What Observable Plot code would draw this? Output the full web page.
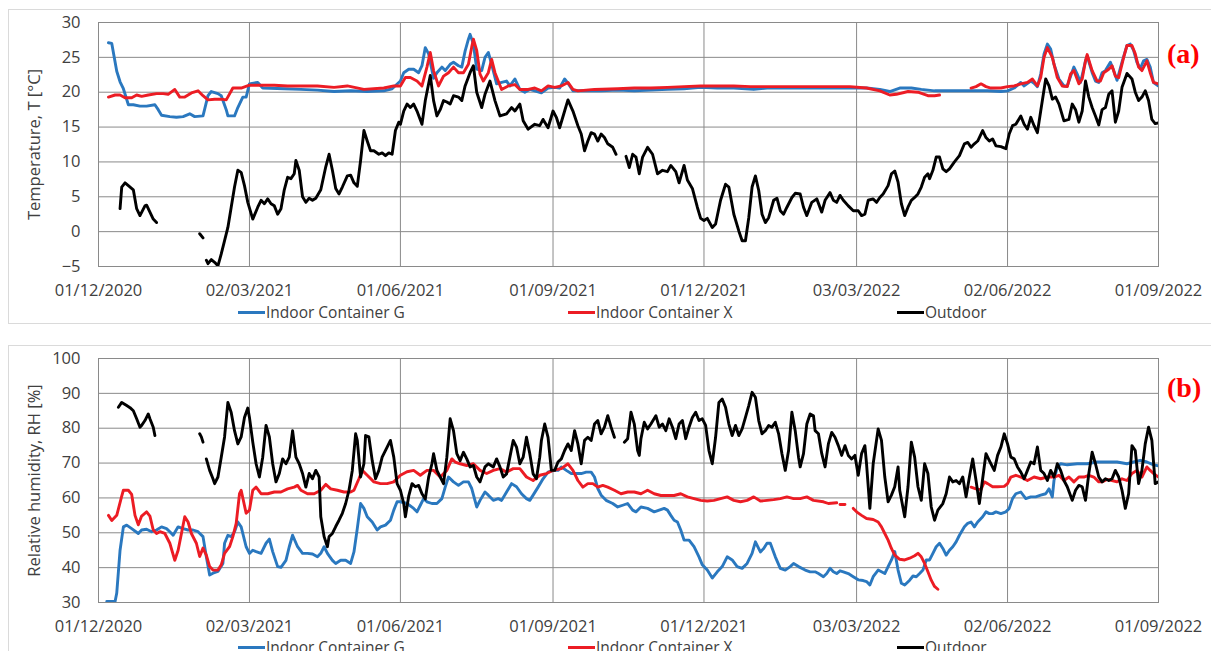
<!DOCTYPE html>
<html><head><meta charset="utf-8">
<script src="https://cdn.jsdelivr.net/npm/d3@7"></script>
<script src="https://cdn.jsdelivr.net/npm/@observablehq/plot@0.6"></script>
<style>
body{margin:0;background:#fff;}
#wrap{position:relative;width:1211px;height:651px;overflow:hidden;font-family:"Open Sans",Lato,sans-serif;background:#fff}
.box{position:absolute;border:1.5px solid #dadada;}
.chart{position:absolute;left:0;}
.leg{position:absolute;font-size:15.5px;line-height:16px;color:#404040;white-space:nowrap}
.sw{position:absolute;width:27px;height:3px}
.tag{position:absolute;font-family:"Liberation Serif",serif;font-weight:bold;font-size:28px;line-height:28px;color:#ff0000}
</style></head>
<body><div id="wrap">
<div class="box" style="left:8px;top:9px;width:1300px;height:313px"></div>
<div class="box" style="left:8px;top:345px;width:1300px;height:400px"></div>
<div id="ca" class="chart" style="top:0"></div>
<div id="cb" class="chart" style="top:336px"></div>
<div class="tag" style="left:1167px;top:40px">(a)</div>
<div class="tag" style="left:1167px;top:374px">(b)</div>
<div id="legA"></div><div id="legB"></div>
</div>
<script>
// ---- tick labels and series names ----
const xTickLabels = ["01/12/2020","02/03/2021","01/06/2021","01/09/2021","01/12/2021","03/03/2022","02/06/2022","01/09/2022"];
const tempTicks = [-5,0,5,10,15,20,25,30];
const humTicks = [30,40,50,60,70,80,90,100];
const seriesNames = ["Indoor Container G","Indoor Container X","Outdoor"];
const seriesColors = ["#2a78bf","#ec1c24","#000000"];
const startDate = "2020-12-01";
const endDate = "2022-09-01";

// ---- data: [days since 01/12/2020, value]; null = gap ----
const tempG = [[6,27.1],[8,27.0],[11,23.0],[13,21.5],[15,20.5],[18,18.2],[21,18.2],[25,18.0],[29,18.0],[34,18.2],[36,17.5],[38,16.7],[43,16.5],[47,16.4],[51,16.5],[55,16.9],[58,16.5],[63,16.6],[66,19.5],[68,20.1],[72,19.8],[74,19.5],[77,17.5],[78,16.6],[82,16.6],[84,17.8],[87,19.3],[89,19.3],[91,21.2],[96,21.4],[99,20.6],[112,20.5],[122,20.4],[132,20.3],[142,20.1],[152,20.2],[162,20.1],[172,20.2],[177,20.5],[182,21.6],
[184,22.8],[187,23.3],[190,23.3],[193,22.8],[195,23.8],[197,26.4],[199,25.5],[202,22.0],[204,22.8],[207,23.6],[209,23.1],[212,24.0],[214,24.3],[217,23.8],[219,23.6],[221,25.9],[223,27.6],[224,28.3],[226,26.9],[228,23.3],[231,23.1],[233,25.0],[235,25.7],[237,24.0],[240,21.2],[243,21.4],[246,21.6],[248,20.9],[251,21.9],[254,20.4],[257,20.0],[260,20.4],[263,20.2],[267,19.9],[271,20.6],[275,20.7],[278,20.6],[281,21.9],[283,21.3],[286,20.2],[293,20.2],[303,20.2],[313,20.3],[323,20.2],[333,20.3],[343,20.4],[353,20.5],[363,20.7],[373,20.6],[383,20.6],[395,20.4],[403,20.6],[423,20.6],
[453,20.6],[463,20.6],[471,20.4],[477,20.1],[483,20.6],[490,20.6],[496,20.4],[504,20.2],[524,20.2],[536,20.2],[544,20.1],[548,20.2],[552,20.6],[556,21.4],[558,20.9],[562,21.6],[564,21.3],[566,20.8],[568,22.6],[570,25.5],[572,26.9],[574,26.2],[576,24.0],[579,21.9],[582,20.9],[584,20.9],[586,22.3],[588,23.6],[590,22.6],[592,21.4],[595,24.5],[596,25.2],[599,22.8],[601,21.6],[603,21.4],[605,22.8],[607,23.1],[610,24.3],[612,23.1],[614,21.7],[617,24.3],[620,26.7],[622,26.9],[624,26.0],[626,24.3],[628,23.4],[630,24.5],[632,24.7],[634,23.6],[636,21.4],[639,20.9]];

const tempX = [[6,19.3],[10,19.6],[13,19.6],[16,19.2],[20,19.2],[23,19.6],[26,19.4],[30,19.6],[35,19.8],[39,19.8],[42,19.7],[46,20.4],[49,19.3],[52,19.3],[56,19.9],[60,20.2],[63,19.5],[66,18.9],[70,19.0],[74,19.0],[77,18.9],[81,20.6],[86,20.6],[91,21.0],[98,21.0],[106,21.0],[114,20.9],[122,20.9],[132,20.9],[142,20.7],[150,20.9],[160,20.4],[172,20.6],[178,20.9],[182,20.9],
[185,22.1],[188,22.1],[192,21.6],[195,20.9],[198,23.6],[200,25.7],[202,23.1],[205,20.9],[208,22.3],[211,22.8],[214,23.6],[217,22.8],[220,22.8],[223,24.0],[225,26.5],[226,27.6],[228,26.0],[230,22.6],[232,21.6],[235,22.8],[237,24.7],[239,22.8],[243,20.4],[247,20.9],[251,21.1],[254,20.4],[259,20.4],[263,20.6],[267,20.2],[271,20.9],[275,20.7],[279,20.9],[283,21.4],[286,20.4],[289,20.2],[299,20.4],[313,20.5],[323,20.6],[333,20.6],[343,20.7],[353,20.8],[363,20.9],[373,20.9],[383,20.9],[393,20.8],[403,20.8],[423,20.8],
[453,20.8],[463,20.6],[471,20.2],[477,19.6],[481,19.7],[488,20.1],[494,20.0],[500,19.5],[504,19.5],[507,19.6],[516,null],[526,20.6],[529,20.8],[532,21.2],[535,20.8],[538,20.6],[544,20.6],[548,20.8],[552,20.9],[556,21.2],[560,21.4],[563,21.9],[566,20.9],[568,22.1],[570,25.0],[572,26.4],[575,25.0],[578,22.1],[581,20.9],[584,20.8],[586,22.6],[588,23.1],[591,21.2],[593,21.9],[595,24.5],[596,25.4],[599,23.1],[602,21.6],[604,21.6],[606,22.8],[609,23.3],[611,23.8],[613,22.3],[615,22.1],[618,25.0],[620,26.7],[623,26.7],[625,25.5],[627,23.6],[629,23.1],[632,24.5],[634,22.8],[636,21.4],[639,21.2]];

const tempOut = [[13,3.3],[14,6.4],[16,7.0],[18,6.6],[21,6.0],[23,3.3],[25,2.3],[28,3.7],[29,3.8],[31,2.8],[33,1.8],[35,1.3],[48,null],[61,-0.3],[63,-0.9],[64,null],[65,-4.1],[66,-4.6],[68,-4.0],[70,-4.4],[72,-4.9],[74,-3.2],[76,-1.3],[78,0.6],[80,3.5],[82,6.4],[84,8.8],[86,8.5],[88,6.6],[90,4.2],[93,1.8],[96,3.5],[98,4.5],[100,4.0],[102,4.7],[104,4.0],[106,3.7],[108,2.5],[110,3.3],[112,6.0],[114,7.8],[116,7.6],[118,8.3],[119,10.2],[121,8.8],[123,5.0],[125,4.2],[127,4.8],[129,4.5],[131,4.8],[134,6.0],[137,9.3],[139,11.1],[141,8.8],[143,6.2],[145,5.4],[147,6.4],[150,8.0],[152,8.1],[154,7.0],[156,6.5],[158,10.2],[160,14.5],[162,13.0],[164,11.6],[166,11.6],[169,11.1],[171,11.3],[173,10.9],[175,11.3],[177,11.1],[179,14.5],[181,15.7],
[182,15.4],[184,17.3],[186,18.3],[188,17.8],[190,18.3],[192,17.3],[195,15.4],[197,18.8],[200,22.4],[202,18.8],[204,16.6],[206,17.5],[208,18.8],[210,18.6],[212,18.3],[214,19.5],[217,19.3],[219,18.8],[221,20.9],[224,22.8],[226,23.8],[228,20.0],[231,17.8],[233,19.7],[236,21.6],[239,18.8],[242,16.6],[246,16.9],[249,17.8],[251,17.3],[254,18.3],[256,15.9],[259,14.7],[263,15.4],[266,15.2],[268,16.1],[271,14.9],[274,17.3],[276,16.4],[278,14.9],[281,17.3],[283,18.9],[286,17.3],[289,15.2],[291,14.0],[293,11.6],[295,13.0],[297,14.2],[299,14.0],[301,13.0],[303,14.0],[305,13.5],[307,12.6],[310,12.1],[312,11.1],[315,null],[318,10.8],[320,9.2],[322,11.1],[324,10.7],[326,8.3],[328,10.7],[331,12.1],[334,11.1],[337,8.3],[340,8.8],[343,8.6],[345,9.5],[348,8.6],[350,7.0],[353,9.5],[355,7.4],[358,6.2],[361,3.5],[363,1.9],[365,1.6],[367,1.9],[370,0.6],[372,1.1],[375,4.5],[378,6.8],[380,6.4],[383,2.5],[386,0.1],[388,-1.3],[390,-1.3],[392,2.0],[394,6.4],[396,8.0],[398,5.9],[400,2.5],[402,1.3],[404,2.0],[407,4.5],[409,4.8],[411,3.0],[413,2.5],[415,3.5],[418,4.9],[420,5.5],[423,5.4],[425,3.5],[427,2.3],[430,4.2],[433,4.7],
[436,2.8],[438,4.5],[441,5.6],[443,4.5],[445,4.2],[447,5.2],[449,4.5],[452,3.7],[455,3.0],[458,3.0],[460,2.3],[462,2.5],[464,4.5],[467,4.7],[469,4.2],[471,4.9],[473,5.4],[476,6.6],[478,8.3],[480,8.7],[482,7.1],[484,4.0],[486,2.3],[488,3.5],[490,4.5],[492,4.9],[494,5.4],[496,6.4],[498,7.8],[500,8.3],[501,7.6],[503,8.8],[505,10.7],[507,10.7],[509,9.0],[511,8.6],[513,9.0],[516,10.0],[519,10.9],[522,12.6],[524,12.8],[526,12.1],[528,12.6],[530,13.0],[533,14.5],[535,13.5],[537,13.0],[539,13.3],[541,12.3],[544,12.2],[547,11.9],[549,14.0],[551,15.2],[553,15.4],[556,16.6],[558,15.4],[560,14.7],[562,16.4],[564,15.2],[566,14.2],[568,17.3],[571,21.9],[573,20.9],[575,19.0],[577,19.3],[579,18.3],[582,15.9],[585,16.1],[587,18.3],[589,17.5],[591,15.7],[593,17.3],[595,21.6],[597,19.3],[599,17.8],[601,16.6],[603,15.3],[605,17.5],[607,17.8],[609,19.7],[611,20.2],[613,15.7],[615,17.3],[617,20.7],[620,22.7],[623,21.9],[625,20.0],[627,18.8],[629,19.3],[631,20.2],[633,18.8],[635,16.1],[637,15.5],[639,15.6]];

const humG = [[5,30.3],[10,30.3],[11,32.7],[13,45.0],[15,51.7],[17,52.2],[20,51.2],[24,49.8],[26,50.8],[29,51.0],[32,50.3],[35,50.8],[38,51.7],[41,51.2],[43,50.3],[45,49.3],[48,51.7],[51,51.2],[54,50.8],[57,50.8],[60,50.3],[63,48.9],[65,43.1],[67,37.9],[69,38.4],[72,38.9],[75,41.2],[76,47.0],[78,49.3],[80,48.9],[82,50.3],[84,53.1],[86,51.7],[89,46.0],[91,44.1],[93,45.0],[95,44.6],[98,44.1],[101,47.0],[103,48.2],[105,44.6],[108,40.3],[110,40.1],[113,42.1],[115,46.0],[117,49.3],[120,46.0],[123,44.1],[126,44.1],[129,43.9],[132,43.1],[134,44.1],[136,46.0],[138,44.1],[141,42.1],[143,41.2],[146,42.1],[149,42.1],[152,41.2],[154,44.5],[156,51.2],[158,58.4],[160,57.0],[162,54.6],[165,53.1],[168,50.8],[170,51.7],[173,52.2],[176,53.6],[178,56.5],[180,58.9],[182,58.9],
[186,58.4],[190,57.0],[192,56.0],[194,57.9],[196,59.8],[198,58.9],[201,58.4],[204,58.4],[207,59.8],[209,63.1],[211,66.0],[214,64.6],[217,63.6],[220,64.6],[223,64.6],[225,62.7],[228,57.4],[230,59.3],[233,61.7],[235,60.8],[238,59.3],[241,59.8],[243,59.3],[246,61.7],[249,64.1],[252,63.2],[255,61.2],[258,59.8],[260,59.3],[262,60.8],[265,63.1],[268,65.5],[271,67.4],[274,67.9],[277,67.9],[279,68.9],[282,67.9],[285,67.0],[288,67.0],[291,67.0],[294,67.4],[297,67.4],[299,66.0],[301,62.7],[303,60.8],[306,59.3],[310,58.4],[313,57.4],[316,57.9],[319,58.4],[322,56.5],[324,56.0],[327,57.4],[331,57.0],[335,56.0],[338,56.5],[341,57.0],[343,56.5],[345,55.0],[347,53.6],[349,53.1],[351,50.8],[353,47.9],[356,47.9],[359,46.0],[362,43.1],[364,40.8],[367,39.3],[370,37.0],[373,38.8],[376,40.3],[379,43.1],[382,42.2],[385,40.3],[388,39.8],[391,41.2],[394,44.1],[396,47.4],[399,44.5],[401,45.5],[403,47.0],[405,47.0],[408,43.1],[411,39.8],[414,39.3],[417,40.3],[419,41.2],[422,40.3],
[426,39.3],[429,38.8],[432,38.8],[434,38.3],[437,37.4],[439,38.3],[441,39.8],[443,38.8],[445,38.3],[447,39.1],[449,38.8],[452,38.3],[455,37.4],[458,36.5],[461,36.3],[463,36.0],[465,35.0],[467,37.4],[470,39.3],[472,38.8],[474,38.3],[476,40.3],[478,42.2],[480,44.6],[482,39.3],[484,35.5],[486,35.0],[489,36.4],[491,37.6],[493,37.4],[495,38.3],[497,39.3],[499,42.2],[501,42.2],[503,44.1],[505,46.0],[507,47.0],[509,45.5],[511,43.6],[513,45.0],[515,46.0],[517,47.4],[519,49.3],[522,51.7],[524,52.7],[526,53.1],[528,51.7],[530,53.1],[533,54.6],[535,56.0],[537,55.5],[539,55.5],[541,56.0],[544,55.5],[547,56.0],[549,57.0],[551,59.8],[553,61.2],[556,61.7],[559,59.8],[562,60.3],[565,60.3],[568,60.8],[571,61.2],[573,62.6],[575,60.3],[576,65.0],[578,68.9],[580,69.8],[584,69.5],[590,69.8],[596,69.8],[602,70.3],[608,70.3],[614,70.3],[620,69.8],[624,70.3],[628,70.8],[632,70.3],[636,69.5],[639,69.2]];

const humX = [[6,55.0],[8,53.5],[11,55.0],[14,60.5],[15,62.2],[18,62.2],[20,61.0],[22,55.0],[24,52.3],[26,54.8],[29,56.0],[31,54.8],[33,50.8],[35,49.8],[37,50.3],[40,49.8],[43,47.0],[46,42.1],[48,45.0],[50,49.8],[52,54.6],[54,53.1],[56,49.8],[59,47.0],[61,43.2],[63,45.6],[65,43.6],[67,40.3],[69,39.3],[72,39.3],[74,40.8],[76,44.1],[79,46.0],[81,48.9],[83,52.7],[85,61.2],[86,62.2],[89,55.6],[91,56.5],[93,62.2],[95,63.1],[98,61.2],[102,61.2],[106,61.7],[110,61.7],[114,62.6],[118,63.1],[120,63.6],[122,62.2],[126,61.2],[130,61.2],[134,62.2],[137,63.9],[140,62.6],[144,62.2],[148,61.7],[152,61.7],[154,62.2],[157,65.5],[159,67.9],[162,66.5],[166,64.6],[170,64.1],[174,64.1],[178,64.6],[182,66.5],
[186,67.5],[190,67.9],[194,66.5],[198,67.9],[202,67.9],[206,66.0],[210,67.9],[213,71.2],[215,70.3],[218,69.8],[222,69.3],[226,69.8],[230,67.9],[234,67.0],[238,67.9],[242,68.4],[246,67.4],[250,68.4],[254,68.4],[258,66.0],[262,65.0],[266,66.5],[270,67.0],[274,67.9],[279,68.4],[283,69.8],[286,67.9],[289,65.0],[292,63.1],[295,64.1],[298,64.1],[301,63.1],[304,63.6],[307,63.1],[311,62.2],[315,61.2],[319,61.7],[323,61.7],[327,61.2],[331,62.2],[335,61.2],[339,60.7],[343,60.7],[347,60.7],[351,61.2],[355,60.3],[359,59.8],[363,59.3],[367,59.1],[371,59.3],[375,59.8],[379,60.3],[383,59.3],[387,58.9],[391,59.3],[395,60.3],[399,59.1],[403,59.3],[407,59.5],[411,59.8],[415,60.3],[419,59.8],[423,59.8],[427,60.3],[431,59.3],
[437,58.9],[440,58.4],[445,58.6],[446,null],[447,58.1],[450,58.1],[452,null],[455,57.0],[457,56.0],[460,55.0],[463,54.1],[467,53.8],[470,53.1],[472,51.7],[474,49.8],[476,47.9],[478,45.5],[480,43.6],[483,42.4],[486,42.2],[489,42.7],[492,43.4],[494,44.1],[496,43.1],[498,41.2],[500,38.8],[502,36.4],[504,34.6],[506,33.8],[515,null],[526,63.1],[529,62.6],[532,62.4],[534,64.6],[536,64.1],[539,63.2],[542,63.2],[546,63.3],[548,64.1],[550,66.0],[553,66.5],[556,66.0],[560,65.0],[564,66.0],[568,65.5],[572,66.0],[576,66.0],[579,66.5],[582,65.0],[585,66.0],[588,64.6],[591,66.0],[594,66.0],[597,66.5],[600,66.0],[603,64.6],[605,64.6],[608,65.3],[611,65.0],[614,64.6],[617,65.5],[620,65.0],[623,67.0],[626,67.9],[629,66.0],[632,68.9],[634,67.9],[636,67.0],[639,66.0]];

const humOut = [[12,86.0],[14,87.4],[17,86.5],[19,85.9],[21,85.0],[23,82.7],[25,80.3],[26,80.8],[28,82.2],[30,84.1],[31,82.7],[33,80.3],[34,77.9],[48,null],[61,78.4],[62,77.5],[63,76.0],[64,null],[65,71.2],[67,67.9],[69,65.5],[70,64.1],[72,66.0],[74,71.7],[76,77.5],[78,87.4],[80,84.5],[82,79.3],[84,75.5],[86,77.5],[88,83.1],[90,85.8],[91,83.1],[93,76.0],[95,69.8],[97,66.0],[99,71.7],[101,80.8],[103,77.5],[105,69.8],[107,64.6],[109,67.0],[111,71.2],[113,69.8],[115,71.7],[117,79.3],[119,71.7],[121,69.8],[123,67.0],[125,63.1],[127,67.0],[129,65.5],[131,67.9],[133,66.0],[134,54.6],[136,48.9],[138,46.0],[139,48.9],[141,49.8],[143,51.8],[145,53.6],[147,55.6],[149,58.4],[151,62.2],[153,67.9],[155,78.4],[156,76.5],[158,66.0],[160,69.8],[161,77.9],[163,77.5],[165,70.7],[167,65.5],[169,67.9],[171,71.7],[174,74.6],[176,76.5],[178,71.7],[180,64.1],[182,62.2],
[184,58.4],[185,54.6],[187,60.5],[189,64.1],[191,63.2],[193,63.6],[195,61.2],[197,59.7],[199,65.9],[201,69.8],[202,72.7],[204,67.9],[206,66.0],[208,64.1],[210,71.7],[212,82.7],[214,79.3],[216,72.7],[218,70.7],[220,73.1],[222,71.2],[224,68.9],[226,69.3],[228,66.0],[230,64.6],[233,68.9],[235,69.8],[238,68.9],[240,71.2],[242,68.9],[244,66.0],[246,66.9],[248,71.7],[250,76.5],[252,74.6],[254,69.8],[256,71.7],[258,77.4],[260,72.7],[262,66.9],[264,65.5],[266,71.7],[267,76.5],[269,81.2],[271,77.4],[273,67.9],[275,67.9],[277,70.3],[279,71.2],[281,73.6],[283,75.5],[285,73.6],[287,79.3],[289,75.5],[291,69.8],[293,76.5],[295,77.4],[297,76.5],[299,81.2],[301,82.2],[303,78.4],[305,80.3],[307,83.6],[309,80.3],[311,77.4],[314,null],[317,76.0],[319,77.0],[321,84.6],[323,81.2],[325,73.6],[326,72.2],[327,77.0],[329,81.7],[331,79.8],[333,81.2],[336,83.6],[338,80.3],[340,81.2],[342,79.3],[344,82.7],[346,80.3],[348,77.0],[350,81.2],[352,82.2],[354,77.0],[356,80.3],[358,83.1],[360,84.6],[362,82.2],[364,82.7],[366,80.8],[368,73.6],[370,69.8],[372,77.4],[374,87.4],[376,88.4],[378,86.0],[380,81.2],[382,77.9],[384,80.8],[386,77.9],[388,79.8],[390,83.1],[392,86.5],[394,90.3],[396,88.9],[398,82.2],[400,78.4],[402,79.3],[404,80.8],[406,80.3],[408,81.7],[410,78.4],[412,72.7],[414,67.9],[416,73.6],[418,84.6],[420,79.3],[422,71.7],[423,68.9],
[425,72.7],[427,81.2],[429,84.1],[431,83.6],[432,79.3],[434,78.4],[436,72.7],[438,68.9],[440,75.5],[442,78.8],[444,77.4],[446,75.0],[448,72.2],[450,75.0],[452,72.2],[454,71.2],[456,72.2],[458,66.5],[460,72.7],[462,75.0],[463,69.8],[465,57.0],[467,69.8],[470,79.8],[472,76.5],[474,66.0],[476,58.9],[478,60.8],[480,63.2],[482,68.9],[483,62.2],[486,54.6],[488,63.2],[490,76.0],[492,71.7],[494,63.2],[496,59.3],[498,69.8],[500,67.0],[502,57.4],[504,53.6],[506,56.5],[509,58.4],[511,61.2],[513,66.0],[515,64.6],[517,65.0],[519,64.1],[521,66.0],[523,60.3],[525,66.0],[527,71.2],[529,65.0],[531,58.4],[533,65.5],[535,72.7],[538,69.8],[540,67.9],[542,72.2],[544,74.6],[546,78.4],[548,75.5],[550,71.7],[552,71.2],[554,68.9],[556,67.4],[558,65.5],[560,67.9],[562,70.3],[564,69.8],[566,74.6],[568,67.9],[570,67.0],[572,65.0],[574,67.9],[576,66.0],[578,69.8],[580,67.9],[582,65.0],[584,63.2],[587,59.3],[589,62.2],[591,63.6],[593,63.2],[595,59.3],[597,67.0],[599,73.1],[601,69.8],[603,66.0],[605,64.6],[607,65.5],[609,65.0],[611,65.5],[613,67.9],[615,66.0],[617,62.2],[619,57.0],[621,61.2],[623,75.0],[625,73.6],[627,64.1],[629,67.9],[631,75.5],[633,80.3],[635,76.5],[637,64.1],[639,64.6]];

// ---- build ----
const t0 = d3.utcParse("%Y-%m-%d")(startDate);
const t1 = d3.utcParse("%Y-%m-%d")(endDate);
const parseTick = d3.utcParse("%d/%m/%Y");
const tickDates = xTickLabels.map(parseTick);
const toRows = arr => arr.map(([d, v]) => ({date: new Date(t0.getTime() + d * 864e5), v}));

function panel(seriesList, yDomain, yTicks, yLabel) {
  return Plot.plot({
    width: 1211, height: 300,
    marginLeft: 98, marginRight: 53, marginTop: 22, marginBottom: 34,
    style: {fontFamily: "'Open Sans', Lato, sans-serif", fontSize: "16.5px", background: "transparent", overflow: "visible"},
    x: {type: "utc", domain: [t0, t1]},
    y: {domain: yDomain},
    marks: [
      Plot.gridY(yTicks, {stroke: "#8a8a8a", strokeOpacity: 1, strokeWidth: 1}),
      Plot.gridX(tickDates, {stroke: "#8a8a8a", strokeOpacity: 1, strokeWidth: 1}),
      Plot.frame({stroke: "#8a8a8a", strokeWidth: 1}),
      Plot.axisX(tickDates, {tickSize: 0, tickPadding: 18, tickFormat: d3.utcFormat("%d/%m/%Y"), color: "#404040", label: null}),
      Plot.axisY(yTicks, {tickSize: 0, tickPadding: 18, label: yLabel, labelAnchor: "center", labelArrow: "none", labelOffset: 70, color: "#404040"}),
      ...seriesList.map((s, i) => Plot.line(toRows(s), {x: "date", y: "v", stroke: seriesColors[i], strokeWidth: 2.9, clip: true}))
    ]
  });
}

document.getElementById("ca").append(panel([tempG, tempX, tempOut], [-5, 30], tempTicks, "Temperature, T [°C]"));
document.getElementById("cb").append(panel([humG, humX, humOut], [30, 100], humTicks, "Relative humidity, RH [%]"));

function legend(el, top) {
  const xs = [238, 568, 897];
  seriesNames.forEach((name, i) => {
    const sw = document.createElement("div");
    sw.className = "sw";
    sw.style.left = xs[i] + "px"; sw.style.top = (top + 7) + "px"; sw.style.background = seriesColors[i];
    const tx = document.createElement("div");
    tx.className = "leg";
    tx.style.left = (xs[i] + 28) + "px"; tx.style.top = top + "px";
    tx.textContent = name;
    el.append(sw, tx);
  });
}
legend(document.getElementById("legA"), 304);
legend(document.getElementById("legB"), 639);
</script>
</body></html>
